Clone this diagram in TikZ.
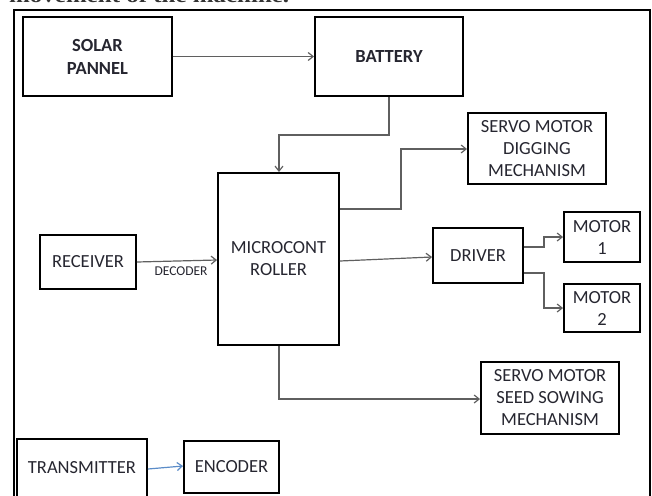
\documentclass[tikz,border=0pt]{standalone}
\usepackage{fontspec}
\setmainfont{Carlito}
\newfontfamily\serifbf{Liberation Serif}
\usetikzlibrary{arrows.meta}
\definecolor{txt}{RGB}{38,38,48}
\definecolor{conn}{RGB}{95,95,95}
\definecolor{bluec}{RGB}{91,140,200}
\tikzset{
  blk/.style={draw=black, line width=1.9pt, rectangle, inner sep=0pt, align=center,
    text=txt, font=\fontsize{18.5}{22}\selectfont},
  bblk/.style={blk, font=\fontsize{18.5}{23}\selectfont\bfseries},
  wire/.style={draw=conn, line width=1.2pt, -{Straight Barb[length=5pt,width=8pt]}},
  bwire/.style={draw=bluec, line width=1.2pt, -{Straight Barb[length=5pt,width=8pt]}},
}
\begin{document}
\begin{tikzpicture}[x=1pt,y=-1pt]
\clip (0,0) rectangle (652,495);
\useasboundingbox (0,0) rectangle (652,495);
% cut-off caption line at the top
\node[anchor=base west, inner sep=0pt, text=black!80] (cap) at (9,3)
  {\resizebox{280pt}{14pt}{\serifbf\bfseries\fontsize{16}{18}\selectfont movement of the machine.}};
% outer frame
\draw[line width=1.9pt] (14,10) rectangle (650,515);
% blocks
\node[bblk, minimum width=149pt, minimum height=79pt] (solar) at (97.5,56.5) {SOLAR\\PANNEL};
\node[bblk, minimum width=148pt, minimum height=79pt] (bat) at (389,56.5) {BATTERY};
\node[blk, minimum width=121pt, minimum height=172pt] (mc) at (278.5,259) {MICROCONT\\ROLLER};
\node[blk, minimum width=96pt, minimum height=54pt] (rx) at (88,262) {RECEIVER};
\node[blk, minimum width=138pt, minimum height=71pt] (dig) at (537,148.5) {SERVO MOTOR\\DIGGING\\MECHANISM};
\node[blk, minimum width=90pt, minimum height=55pt] (drv) at (478,255.5) {DRIVER};
\node[blk, minimum width=76pt, minimum height=50pt] (m1) at (602,237) {MOTOR\\1};
\node[blk, minimum width=76pt, minimum height=48pt] (m2) at (602,308) {MOTOR\\2};
\node[blk, minimum width=138pt, minimum height=72pt] (seed) at (550,398) {SERVO MOTOR\\SEED SOWING\\MECHANISM};
\node[blk, minimum width=130pt, minimum height=58pt] (tx) at (82,468) {TRANSMITTER};
\node[blk, minimum width=95pt, minimum height=52pt] (enc) at (231.5,467) {ENCODER};
% connectors
\draw[wire] (solar.east) -- (bat.west);
\draw[wire] (bat.south) |- (279,135) -- (mc.north -| 279,0);
\draw[wire] (mc.east |- 0,209) -| (401,149) -- (dig.west |- 0,149);
\draw[wire] (mc.east |- 0,261) -- (drv.west |- 0,257);
\draw[wire] (drv.east |- 0,247) -| (544,237) -- (m1.west);
\draw[wire] (drv.east |- 0,273) -| (544,308) -- (m2.west);
\draw[wire] (mc.south -| 279,0) |- (seed.west |- 0,399);
\draw[wire] (rx.east) -- (mc.west |- 0,260)
  node[pos=0.55, below=2pt, text=txt, font=\fontsize{13.5}{15}\selectfont] (dec) {DECODER};
\draw[bwire] (tx.east |- 0,469) -- (enc.west |- 0,466);
\end{tikzpicture}
\end{document}
